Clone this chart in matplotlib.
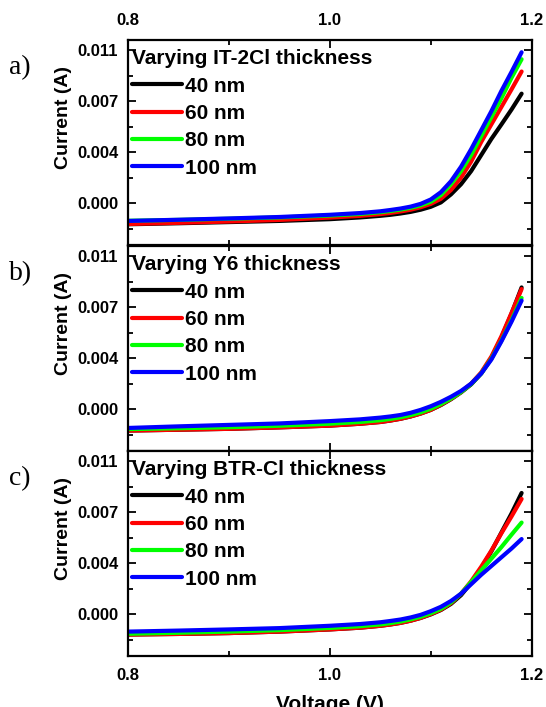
import matplotlib
matplotlib.use("Agg")
import matplotlib.pyplot as plt
from matplotlib.ticker import MultipleLocator, FixedLocator, FixedFormatter

plt.rcParams['font.family'] = ['Liberation Sans', 'DejaVu Sans']
plt.rcParams['font.weight'] = 'bold'

# voltage samples (V)
voltage = [0.80, 0.85, 0.90, 0.95, 1.00, 1.03, 1.05, 1.06, 1.07, 1.08, 1.09,
           1.10, 1.11, 1.12, 1.13, 1.14, 1.15, 1.16, 1.17, 1.18, 1.19]

thickness = ['40 nm', '60 nm', '80 nm', '100 nm']
colors = ['#000000', '#ff0000', '#00ff00', '#0000ff']

# a) Varying IT-2Cl thickness, current (A)
a_40 = [-0.00145, -0.00138, -0.00130, -0.00122, -0.00110, -0.00098, -0.00087, -0.00080, -0.00071, -0.00060, -0.00045,
        -0.00025, 0.00005, 0.00060, 0.00130, 0.00220, 0.00330, 0.00440, 0.00540, 0.00642, 0.00751]
a_60 = [-0.00143, -0.00135, -0.00126, -0.00115, -0.00099, -0.00087, -0.00075, -0.00067, -0.00057, -0.00045, -0.00028,
        -0.00005, 0.00030, 0.00090, 0.00175, 0.00285, 0.00420, 0.00540, 0.00660, 0.00780, 0.00903]
a_80 = [-0.00121, -0.00115, -0.00107, -0.00098, -0.00085, -0.00074, -0.00062, -0.00054, -0.00044, -0.00032, -0.00015,
        0.00010, 0.00055, 0.00130, 0.00220, 0.00330, 0.00460, 0.00590, 0.00720, 0.00860, 0.00987]
a_100 = [-0.00122, -0.00114, -0.00105, -0.00095, -0.00080, -0.00068, -0.00056, -0.00047, -0.00037, -0.00024, -0.00005,
         0.00025, 0.00075, 0.00150, 0.00250, 0.00370, 0.00500, 0.00630, 0.00770, 0.00900, 0.01035]

# b) Varying Y6 thickness
b_40 = [-0.00147, -0.00141, -0.00135, -0.00125, -0.00113, -0.00100, -0.00088, -0.00078, -0.00066, -0.00050, -0.00030,
        -0.00005, 0.00028, 0.00068, 0.00115, 0.00170, 0.00245, 0.00350, 0.00490, 0.00655, 0.00835]
b_60 = [-0.00147, -0.00141, -0.00135, -0.00125, -0.00113, -0.00100, -0.00088, -0.00078, -0.00066, -0.00050, -0.00030,
        -0.00005, 0.00030, 0.00070, 0.00118, 0.00175, 0.00252, 0.00360, 0.00500, 0.00660, 0.00824]
b_80 = [-0.00137, -0.00131, -0.00124, -0.00114, -0.00100, -0.00088, -0.00076, -0.00067, -0.00056, -0.00041, -0.00022,
        0.00003, 0.00035, 0.00073, 0.00118, 0.00172, 0.00245, 0.00345, 0.00470, 0.00610, 0.00763]
b_100 = [-0.00129, -0.00118, -0.00108, -0.00098, -0.00082, -0.00070, -0.00058, -0.00050, -0.00040, -0.00025, -0.00005,
         0.00020, 0.00050, 0.00085, 0.00125, 0.00175, 0.00245, 0.00340, 0.00465, 0.00600, 0.00745]

# c) Varying BTR-Cl thickness
c_40 = [-0.00140, -0.00136, -0.00130, -0.00120, -0.00105, -0.00093, -0.00080, -0.00071, -0.00060, -0.00045, -0.00026,
        -0.00002, 0.00028, 0.00070, 0.00130, 0.00215, 0.00315, 0.00430, 0.00560, 0.00690, 0.00831]
c_60 = [-0.00140, -0.00136, -0.00130, -0.00120, -0.00105, -0.00093, -0.00080, -0.00071, -0.00060, -0.00045, -0.00026,
        0.00000, 0.00030, 0.00075, 0.00140, 0.00225, 0.00325, 0.00435, 0.00555, 0.00670, 0.00790]
c_80 = [-0.00135, -0.00128, -0.00120, -0.00110, -0.00095, -0.00083, -0.00071, -0.00062, -0.00051, -0.00036, -0.00018,
        0.00006, 0.00036, 0.00080, 0.00140, 0.00220, 0.00300, 0.00380, 0.00460, 0.00545, 0.00628]
c_100 = [-0.00120, -0.00113, -0.00105, -0.00096, -0.00080, -0.00068, -0.00056, -0.00047, -0.00037, -0.00023, -0.00005,
         0.00020, 0.00050, 0.00090, 0.00140, 0.00205, 0.00270, 0.00330, 0.00390, 0.00450, 0.00515]

panels = [
    ('a)', 'Varying IT-2Cl thickness', [a_40, a_60, a_80, a_100]),
    ('b)', 'Varying Y6 thickness', [b_40, b_60, b_80, b_100]),
    ('c)', 'Varying BTR-Cl thickness', [c_40, c_60, c_80, c_100]),
]

ytick_vals = [0.0, 0.0035, 0.007, 0.0105]
ytick_labels = ['0.000', '0.004', '0.007', '0.011']

fig = plt.figure(figsize=(5.46, 7.07), dpi=100)
left, width = 0.2344, 0.7394
tops = [0.9434, 0.6520, 0.3621]
height = 0.2899

for i, (tag, title, series) in enumerate(panels):
    ax = fig.add_axes([left, tops[i] - height, width, height])
    for cur, c, lab in zip(series, colors, thickness):
        ax.plot(voltage, cur, color=c, lw=3, label=lab,
                solid_capstyle='round', solid_joinstyle='round')

    ax.set_xlim(0.8, 1.2)
    ax.set_ylim(-0.00287, 0.01119)
    ax.xaxis.set_major_locator(MultipleLocator(0.2))
    ax.xaxis.set_minor_locator(MultipleLocator(0.1))
    ax.yaxis.set_major_locator(FixedLocator(ytick_vals))
    ax.yaxis.set_major_formatter(FixedFormatter(ytick_labels))
    ax.yaxis.set_minor_locator(MultipleLocator(0.00175))
    ax.tick_params(which='both', direction='in', top=True, right=True, width=1.3)
    ax.tick_params(which='major', length=6)
    ax.tick_params(which='minor', length=3.5)
    ax.tick_params(axis='y', labelsize=12, pad=7)
    ax.tick_params(axis='x', labelsize=12, pad=9)
    for sp in ax.spines.values():
        sp.set_linewidth(1.6)

    if i == 0:
        ax.tick_params(axis='x', labeltop=True, labelbottom=False)
    elif i == 1:
        ax.tick_params(axis='x', labelbottom=False)
    else:
        ax.set_xlabel('Voltage (V)', fontsize=15, fontweight='bold', labelpad=8)

    ax.set_ylabel('Current (A)', fontsize=14, fontweight='bold')
    ax.yaxis.set_label_coords(-0.138, 0.62)

    leg = ax.legend(loc='upper left', bbox_to_anchor=(-0.005, 0.985), frameon=False,
                    title=title, alignment='left', fontsize=15,
                    title_fontproperties={'size': 15, 'weight': 'bold'},
                    handlelength=2.4, handletextpad=0.15, labelspacing=0.4,
                    borderpad=0.2, borderaxespad=0.1)
    for h in leg.get_lines():
        h.set_linewidth(3)

    ax.text(-0.295, 0.865, tag, transform=ax.transAxes, fontsize=20,
            family='Liberation Serif', fontweight='normal', ha='left', va='center')

fig.savefig('out.png', dpi=100)
